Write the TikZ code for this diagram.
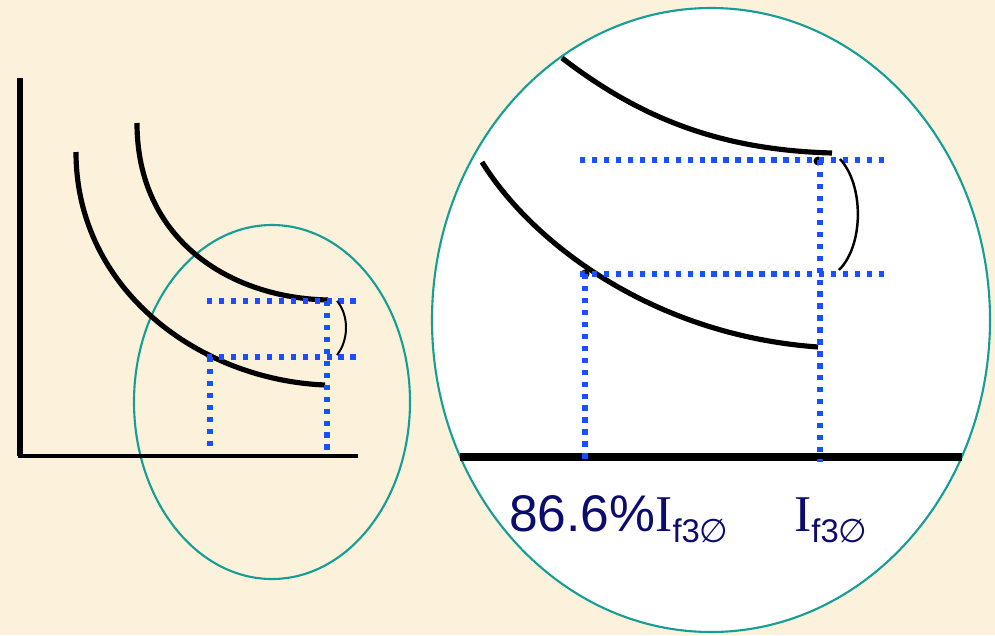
\documentclass[tikz,border=0pt]{standalone}
\usepackage{fontspec}
\setmainfont{Liberation Serif}
\setsansfont{Liberation Sans}
\newfontfamily\djv{DejaVu Sans}
\definecolor{bgc}{RGB}{252,241,218}
\definecolor{teal2}{RGB}{20,158,150}
\definecolor{dotblue}{RGB}{24,80,255}
\definecolor{navy}{RGB}{12,12,110}
\tikzset{
  curvex/.style={line width=4.4pt, black},
  dotline/.style={line width=4.6pt, dotblue, dash pattern=on 4.6pt off 5.6pt},
  ringline/.style={line width=1.8pt, teal2},
  brack/.style={line width=1.7pt, black},
  ptdot/.style={fill=black},
  lbl/.style={inner sep=0pt, text=navy, font=\fontsize{44}{44}\selectfont\sffamily},
}
\newcommand{\subf}{\raisebox{-10pt}{\fontsize{28}{28}\selectfont\sffamily f3{\djv ∅}}}
\begin{document}
\begin{tikzpicture}[x=0.03cm, y=-0.03cm]
\useasboundingbox (0,0) rectangle (995,635);
\fill[bgc] (0,0) rectangle (995,635);

% ---------- small diagram ----------
\coordinate (sO) at (20,456);
\coordinate (sY) at (20,78);
\coordinate (sX) at (358,456);
\draw[ringline] (272,402) ellipse [x radius=138, y radius=177];
\draw[line width=4.8pt] (sY) -- (20,456);
\draw[line width=4pt] (18,456) -- (sX);
\coordinate (sa1) at (137,123);
\coordinate (sa2) at (328,300);
\coordinate (sb1) at (76,152);
\coordinate (sb2) at (325,385);
\draw[curvex] (sa1) .. controls (137,240) and (230,298) .. (sa2);
\draw[curvex] (sb1) .. controls (76,290) and (200,380) .. (sb2);
\coordinate (sp1) at (210,357);
\coordinate (sp2) at (327,301);
\fill[ptdot] (sp1) circle (3.5);
\fill[ptdot] (sp2) circle (3.5);
\draw[dotline] (207,301) -- (358,301);
\draw[dotline] (207,357) -- (358,357);
\draw[dotline] (210,357) -- (210,452);
\draw[dotline] (327,301) -- (327,452);
\draw[brack] (337,301) .. controls (349,315) and (349,340) .. (337,355);

% ---------- big diagram ----------
\draw[ringline, fill=white] (711,320) ellipse [x radius=279, y radius=312];
\coordinate (bL) at (460,457);
\coordinate (bR) at (962,457);
\draw[line width=6.5pt] (bL) -- (bR);
\coordinate (ba1) at (562,58);
\coordinate (ba2) at (832,153);
\coordinate (bb1) at (482,162);
\coordinate (bb2) at (818,347);
\draw[curvex] (ba1) .. controls (640,118) and (720,150) .. (ba2);
\draw[curvex] (bb1) .. controls (530,240) and (650,335) .. (bb2);
\coordinate (bp1) at (585,274);
\coordinate (bp2) at (818,161);
\fill[ptdot] (bp1) circle (4.5);
\fill[ptdot] (bp2) circle (4.5);
\draw[dotline] (580,160) -- (886,160);
\draw[dotline] (580,274) -- (884,274);
\draw[dotline] (585,274) -- (585,462);
\draw[dotline] (820,160) -- (820,462);
\draw[brack, line width=2.1pt] (840,159) .. controls (864,185) and (864,245) .. (839,270);

\node[lbl, anchor=base west] (l1) at (509,531) {86.6\%{\rmfamily I}\subf};
\node[lbl, anchor=base west] (l2) at (794,531) {{\rmfamily I}\subf};
\end{tikzpicture}
\end{document}
